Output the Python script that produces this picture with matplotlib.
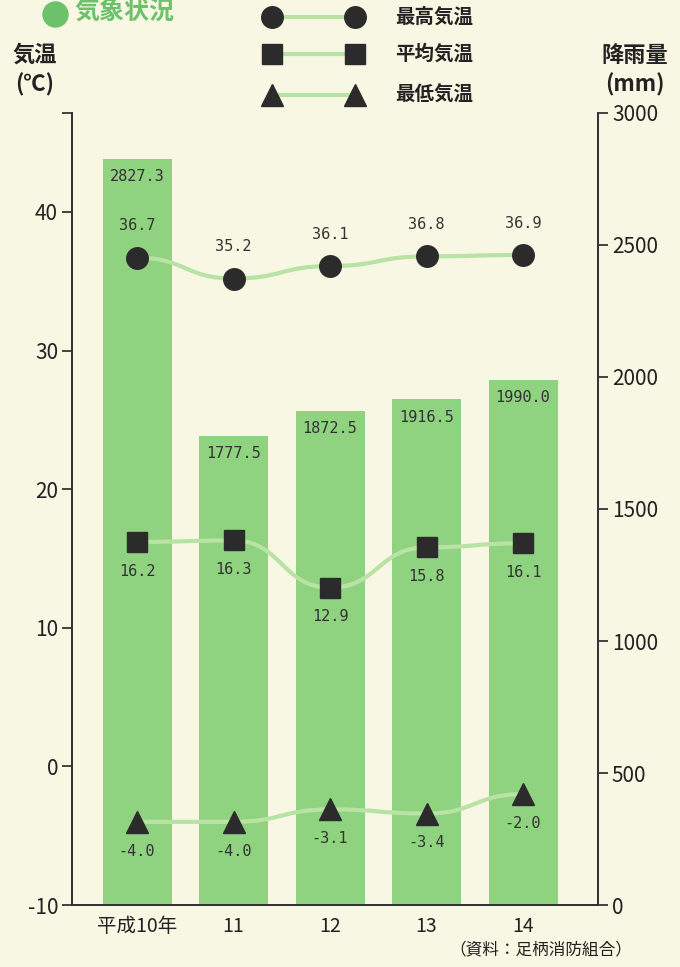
import matplotlib
matplotlib.use('Agg')
import matplotlib.pyplot as plt
from matplotlib.path import Path
from matplotlib.patches import PathPatch
from matplotlib.lines import Line2D

plt.rcParams['font.family'] = ['Noto Sans CJK JP', 'DejaVu Sans']

# データ
years = ['平成10年', '11', '12', '13', '14']
rain = [2827.3, 1777.5, 1872.5, 1916.5, 1990.0]
t_max = [36.7, 35.2, 36.1, 36.8, 36.9]
t_avg = [16.2, 16.3, 12.9, 15.8, 16.1]
t_min = [-4.0, -4.0, -3.1, -3.4, -2.0]

bg = '#f7f7e3'
bar_c = '#8fd27f'
line_c = '#b9e3a4'
mark_c = '#2b2b2b'
txt_c = '#222222'


def smooth_path(xs, ys):
    # 各点で水平な接線をもつベジェ曲線
    verts = [(xs[0], ys[0])]
    codes = [Path.MOVETO]
    for i in range(len(xs) - 1):
        d = (xs[i + 1] - xs[i]) * 0.5
        verts += [(xs[i] + d, ys[i]), (xs[i + 1] - d, ys[i + 1]), (xs[i + 1], ys[i + 1])]
        codes += [Path.CURVE4] * 3
    return Path(verts, codes)


def main():
    fig = plt.figure(figsize=(6.8, 9.67), dpi=100, facecolor=bg)
    ax = fig.add_axes([72 / 680, 1 - 905 / 967, 526 / 680, 792 / 967])
    ax.set_facecolor(bg)
    ax2 = ax.twinx()
    ax.set_zorder(2)
    ax.patch.set_visible(False)

    x = list(range(len(years)))

    # 降雨量（棒）
    ax2.bar(x, rain, width=0.715, color=bar_c, zorder=1)
    ax2.set_ylim(0, 3000)
    ax2.set_xlim(-0.674, 4.777)
    for xi, r in zip(x, rain):
        ax2.annotate(f'{r:.1f}', (xi, r), xytext=(0, -13), textcoords='offset points',
                     ha='center', va='center', fontsize=11, color='#333333',
                     family='DejaVu Sans Mono')

    ytop = -10 + 792 / 13.86
    ax.set_ylim(-10, ytop)
    ax.set_xlim(-0.674, 4.777)

    series = [(t_max, 'o', 15.5, 23), (t_avg, 's', 14, -21), (t_min, '^', 16, -21)]
    for vals, mk, ms, off in series:
        ax.add_patch(PathPatch(smooth_path(x, vals), fill=False, edgecolor=line_c,
                               lw=3, zorder=3))
        ax.plot(x, vals, linestyle='none', marker=mk, markersize=ms,
                color=mark_c, zorder=4)
        for xi, v in zip(x, vals):
            ax.annotate(f'{v:.1f}', (xi, v),
                        xytext=(0, off), textcoords='offset points',
                        ha='center', va='center', fontsize=11, color='#333333',
                        family='DejaVu Sans Mono')

    # 軸
    for a in (ax, ax2):
        a.spines['top'].set_visible(False)
        for s in a.spines.values():
            s.set_color('#333333')
            s.set_linewidth(1.3)
    ax.set_yticks([-10, 0, 10, 20, 30, 40, ytop])
    ax.set_yticklabels(['-10', '0', '10', '20', '30', '40', ''])
    ax2.set_yticks([0, 500, 1000, 1500, 2000, 2500, 3000])
    ax.tick_params(axis='y', labelsize=15, length=7, width=1.3, colors='#333333',
                   labelcolor=txt_c, pad=3)
    ax2.tick_params(axis='y', labelsize=15, length=7, width=1.3, colors='#333333',
                    labelcolor=txt_c, pad=3)
    ax.set_xticks(x)
    ax.set_xticklabels(years, fontsize=14, color=txt_c)
    ax.tick_params(axis='x', length=0, pad=8)
    ax2.tick_params(axis='x', length=0)

    # 軸タイトル
    fig.text(35 / 680, 1 - 70 / 967, '気温\n(℃)', ha='center', va='center',
             fontsize=16, color=txt_c, linespacing=1.3, weight='bold')
    fig.text(635 / 680, 1 - 70 / 967, '降雨量\n(mm)', ha='center', va='center',
             fontsize=16, color=txt_c, linespacing=1.3, weight='bold')

    # タイトル
    fig.text(74 / 680, 1 - 1 / 967, '気象状況', ha='left', va='top',
             fontsize=18, color='#6cc26a', weight='bold')
    fig.add_artist(Line2D([55 / 680], [1 - 14 / 967], linestyle='none', marker='o',
                          markersize=18, color='#6cc26a', transform=fig.transFigure))

    # 凡例
    leg = [('o', 15.5, '最高気温', 17), ('s', 14, '平均気温', 54), ('^', 16, '最低気温', 95)]
    for mk, ms, lab, yp in leg:
        yf = 1 - yp / 967
        fig.add_artist(Line2D([272 / 680, 355 / 680], [yf, yf], color=line_c, lw=3,
                              transform=fig.transFigure))
        fig.add_artist(Line2D([272 / 680, 355 / 680], [yf, yf], linestyle='none',
                              marker=mk, markersize=ms, color=mark_c,
                              transform=fig.transFigure))
        fig.text(395 / 680, yf, lab, ha='left', va='center', fontsize=14,
                 color=txt_c, weight='bold')

    fig.text(632 / 680, 1 - 950 / 967, '（資料：足柄消防組合）', ha='right', va='center',
             fontsize=12, color=txt_c)

    fig.savefig('out.png', dpi=100, facecolor=bg)


if __name__ == '__main__':
    main()
